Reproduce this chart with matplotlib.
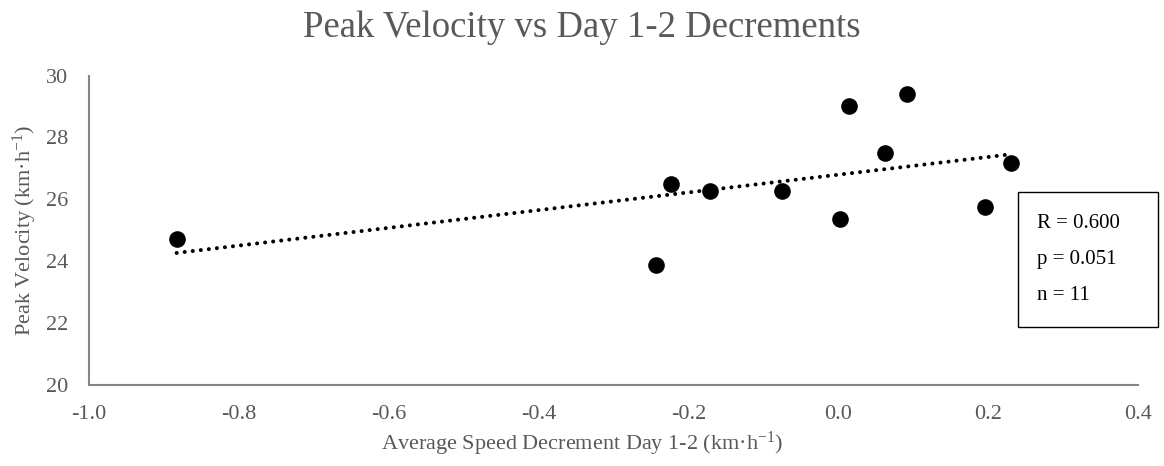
import numpy as np
from matplotlib import pyplot as plt

# data
decrement = [-0.883, -0.243, -0.223, -0.171, -0.075, 0.002, 0.014, 0.062, 0.092, 0.196, 0.230]
peak_velocity = [24.71, 23.87, 26.49, 26.26, 26.28, 25.37, 29.03, 27.51, 29.42, 25.75, 27.18]
stats_lines = ['R = 0.600', 'p = 0.051', 'n = 11']
x_ticks = [-1.0, -0.8, -0.6, -0.4, -0.2, 0.0, 0.2, 0.4]
y_ticks = [20, 22, 24, 26, 28, 30]

plt.rcParams['font.family'] = ['Liberation Serif', 'DejaVu Serif']
plt.rcParams['mathtext.fontset'] = 'custom'
plt.rcParams['mathtext.rm'] = 'Liberation Serif'
plt.rcParams['mathtext.it'] = 'Liberation Serif:italic'
grey = '#595959'
axis_grey = '#868686'

fig = plt.figure(figsize=(11.64, 4.66), dpi=100)
ax = fig.add_axes([89/1164, 1 - 384.5/466, (1138-89)/1164, (384.5-75.7)/466])

ax.scatter(decrement, peak_velocity, s=120, color='black', zorder=3)

# linear trendline
coef = np.polyfit(decrement, peak_velocity, 1)
xs = np.array([min(decrement), max(decrement)])
ax.plot(xs, np.polyval(coef, xs), color='black', linestyle=(0, (0.01, 2.0)),
        linewidth=2.9, dash_capstyle='round', zorder=2)

ax.set_xlim(-1.0, 0.4)
ax.set_ylim(20, 30)
ax.set_xticks(x_ticks)
ax.set_xticklabels(['%.1f' % t for t in x_ticks])
ax.set_yticks(y_ticks)
ax.tick_params(length=0, labelsize=16, colors=grey)
ax.tick_params(axis='x', pad=15)
ax.tick_params(axis='y', pad=15)
for s in ['top', 'right']:
    ax.spines[s].set_visible(False)
for s in ['left', 'bottom']:
    ax.spines[s].set_color(axis_grey)
    ax.spines[s].set_linewidth(1.5)

ax.set_xlabel('Average Speed Decrement Day 1-2 (km·h$^{-1}$)', fontsize=16, color=grey, labelpad=4)
ax.xaxis.label.set_x((582 - 89) / (1138 - 89))
ax.set_ylabel('Peak Velocity (km·h$^{-1}$)', fontsize=16, color=grey, labelpad=5)
fig.text(0.5, 1 - 28/466, 'Peak Velocity vs Day 1-2 Decrements', ha='center', va='center',
         fontsize=26.5, color=grey)

# stats box
box = plt.Rectangle((1018/1164, 1 - 327/466), 140/1164, 135/466, transform=fig.transFigure,
                    fill=False, edgecolor='black', linewidth=1)
fig.add_artist(box)
for i, line in enumerate(stats_lines):
    fig.text(1037/1164, 1 - (223 + i*36.5)/466, line, ha='left', va='center', fontsize=15, color='black')

plt.savefig('out.png', dpi=100)
